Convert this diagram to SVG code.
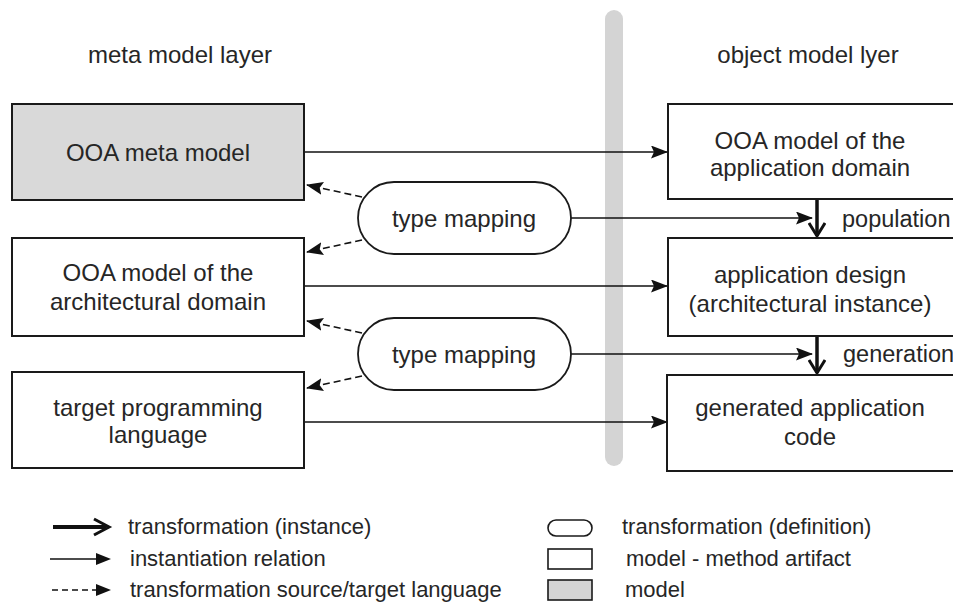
<svg xmlns="http://www.w3.org/2000/svg" width="953" height="602" viewBox="0 0 953 602">
<style>
text{font-family:"Liberation Sans",Arial,sans-serif;fill:#262626;}
.t{font-size:24px;text-anchor:middle;}
.h{font-size:24px;text-anchor:middle;}
.l{font-size:22px;}
.box{fill:#fff;stroke:#1a1a1a;stroke-width:2;}
.gray{fill:#d9d9d9;}
.tm{fill:#fff;stroke:#1a1a1a;stroke-width:1.8;}
.inst{stroke:#111;stroke-width:1.6;fill:none;}
.dash{stroke:#111;stroke-width:1.6;fill:none;stroke-dasharray:7,4;}
.thick{stroke:#111;stroke-width:3.5;fill:none;}
</style>
<defs>
<marker id="fa" markerWidth="17" markerHeight="13" refX="16" refY="6.5" orient="auto" markerUnits="userSpaceOnUse">
<path d="M0,0 L17,6.5 L0,13 L3,6.5 Z" fill="#111"/>
</marker>
<marker id="va" markerWidth="18" markerHeight="18" refX="15" refY="9" orient="auto" markerUnits="userSpaceOnUse">
<path d="M2,1 L15,9 L2,17" fill="none" stroke="#111" stroke-width="3"/>
</marker>
</defs>
<rect width="953" height="602" fill="#fff"/>
<rect x="605" y="10" width="18" height="456" rx="9" fill="#d4d4d4"/>
<text class="h" x="180" y="63">meta model layer</text>
<text class="h" x="808" y="63">object model lyer</text>

<g id="connectors">
<line class="inst" x1="305" y1="152" x2="667" y2="152" marker-end="url(#fa)"/>
<line class="inst" x1="305" y1="286" x2="667" y2="286" marker-end="url(#fa)"/>
<line class="inst" x1="305" y1="422" x2="667" y2="422" marker-end="url(#fa)"/>
<line class="inst" x1="571" y1="218" x2="812" y2="218" marker-end="url(#fa)"/>
<line class="inst" x1="571" y1="354" x2="812" y2="354" marker-end="url(#fa)"/>
<line class="dash" x1="362" y1="197" x2="307" y2="185" marker-end="url(#fa)"/>
<line class="dash" x1="362" y1="240" x2="307" y2="252" marker-end="url(#fa)"/>
<line class="dash" x1="362" y1="333" x2="307" y2="321" marker-end="url(#fa)"/>
<line class="dash" x1="362" y1="376" x2="307" y2="388" marker-end="url(#fa)"/>
<line class="thick" x1="817" y1="199" x2="817" y2="236" marker-end="url(#va)"/>
<line class="thick" x1="817" y1="336" x2="817" y2="373" marker-end="url(#va)"/>
</g>

<g id="n-meta"><rect class="box gray" x="12" y="104" width="292" height="96"/><text class="t" x="158" y="161">OOA meta model</text></g>
<g id="n-arch"><rect class="box" x="12" y="238" width="292" height="98"/><text class="t" x="158" y="281">OOA model of the</text><text class="t" x="158" y="310">architectural domain</text></g>
<g id="n-target"><rect class="box" x="12" y="372" width="292" height="96"/><text class="t" x="158" y="416">target programming</text><text class="t" x="158" y="443">language</text></g>
<g id="n-appdom"><rect class="box" x="668" y="104" width="290" height="95"/><text class="t" x="810" y="149">OOA model of the</text><text class="t" x="810" y="176">application domain</text></g>
<g id="n-design"><rect class="box" x="668" y="238" width="290" height="98"/><text class="t" x="810" y="283">application design</text><text class="t" x="810" y="312">(architectural instance)</text></g>
<g id="n-code"><rect class="box" x="667" y="375" width="291" height="96"/><text class="t" x="810" y="416">generated application</text><text class="t" x="810" y="445">code</text></g>
<g id="n-tm1"><rect class="tm" x="358" y="182" width="213" height="72" rx="36"/><text class="t" x="464" y="227">type mapping</text></g>
<g id="n-tm2"><rect class="tm" x="358" y="318" width="213" height="72" rx="36"/><text class="t" x="464" y="363">type mapping</text></g>
<text x="842" y="227" style="font-size:23.5px">population</text>
<text x="843" y="362" style="font-size:23.5px">generation</text>

<g id="legend">
<line x1="53" y1="527" x2="106" y2="527" stroke="#111" stroke-width="4"/>
<path d="M94,519 L109,527 L94,535" fill="none" stroke="#111" stroke-width="3"/>
<text class="l" x="128" y="534">transformation (instance)</text>
<line x1="50" y1="559" x2="98" y2="559" stroke="#111" stroke-width="1.6"/>
<path d="M96,553 L111,559 L96,565 Z" fill="#111"/>
<text class="l" x="130" y="566">instantiation relation</text>
<line x1="52" y1="590" x2="98" y2="590" stroke="#111" stroke-width="1.6" stroke-dasharray="6,4"/>
<path d="M96,584 L111,590 L96,596 Z" fill="#111"/>
<text class="l" x="130" y="597">transformation source/target language</text>
<rect x="548" y="520" width="44" height="16" rx="8" fill="#fff" stroke="#1a1a1a" stroke-width="1.6"/>
<text class="l" x="622" y="534">transformation (definition)</text>
<rect x="548" y="549" width="44" height="20" fill="#fff" stroke="#1a1a1a" stroke-width="1.6"/>
<text class="l" x="626" y="566">model - method artifact</text>
<rect x="548" y="580" width="44" height="20" fill="#d4d4d4" stroke="#1a1a1a" stroke-width="1.6"/>
<text class="l" x="625" y="597">model</text>
</g>
</svg>
